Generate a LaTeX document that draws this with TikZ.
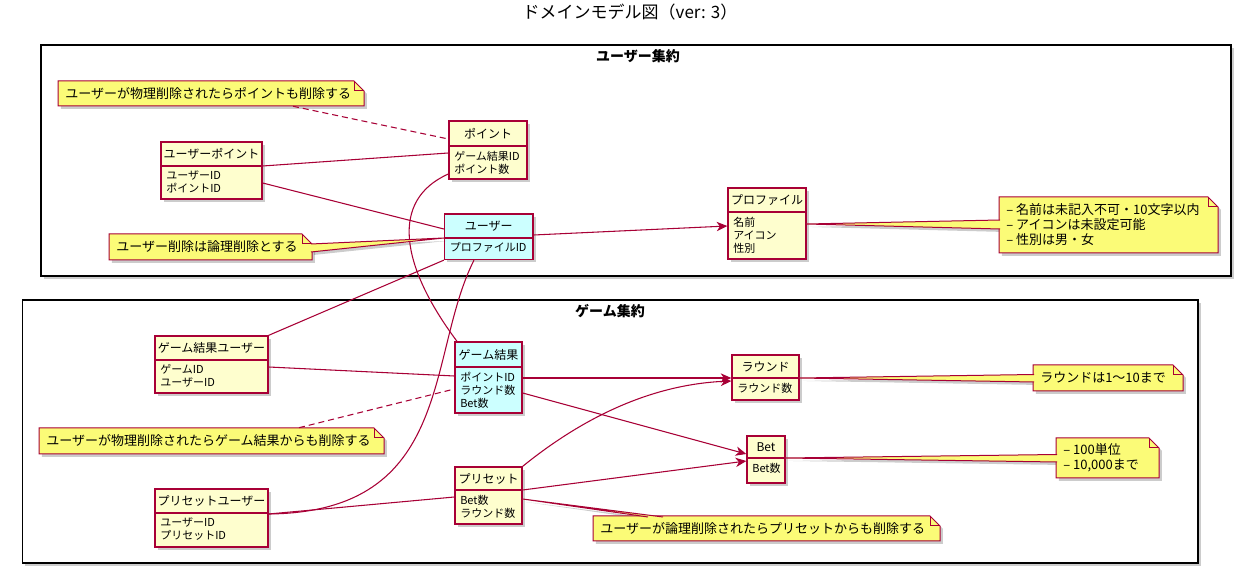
\documentclass[tikz,border=0pt]{standalone}
\usepackage{fontspec}
\setmainfont{Noto Sans CJK JP}
\usetikzlibrary{arrows.meta,shadows,fit,calc}
\definecolor{crim}{HTML}{A80036}
\definecolor{clsbg}{HTML}{FEFECE}
\definecolor{keybg}{HTML}{CCFFFF}
\definecolor{notebg}{HTML}{FBFB77}
\tikzset{
  shd/.style={drop shadow={shadow xshift=2.2pt,shadow yshift=-2.2pt,opacity=0.2,fill=black}},
  pkg/.style={draw=black,line width=1.1pt,fill=white,shd},
  pkglabel/.style={font=\fontsize{10.5pt}{12pt}\selectfont\bfseries,inner sep=0pt},
  clsnode/.style={draw=crim,line width=1pt,inner sep=0pt,shd},
  hdr/.style={font=\fontsize{9pt}{10pt}\selectfont,inner sep=0pt},
  attr/.style={font=\fontsize{8.25pt}{9.75pt}\selectfont,align=left,inner sep=0pt},
  notebody/.style={fill=notebg,draw=crim,line width=0.75pt},
  notetext/.style={font=\fontsize{9.75pt}{11.25pt}\selectfont,align=left,inner sep=0pt},
  conn/.style={draw=crim,line width=0.8pt},
  arr/.style={conn,-{Stealth[length=8pt,width=7pt,inset=2.4pt]}},
  dashconn/.style={conn,dash pattern=on 4.5pt off 3pt},
  titletext/.style={font=\fontsize{12.75pt}{15pt}\selectfont,inner sep=0pt}
}
% class: name, x1, y1, x2, y2, separator y, fill, header, attributes
\newcommand{\mkclass}[9]{%
  \node[clsnode,fill=#7,fit={(#2,#3) (#4,#5)}] (#1) {};
  \draw[crim,line width=1pt] (#2,#6) -- (#4,#6);
  \node[hdr] at ({(#2+#4)/2},{(#3+#6)/2}) {#8};
  \node[attr,anchor=north west] at ({#2+5},{#6+4.5}) {#9};
}
% note: name, x1, y1, x2, y2, text
\newcommand{\mknote}[6]{%
  \node[fit={(#2,#3) (#4,#5)},inner sep=0pt] (#1) {};
  \path[notebody,shd] (#2,#3) -- ({#4-10},#3) -- (#4,{#3+10}) -- (#4,#5) -- (#2,#5) -- cycle;
  \draw[crim,line width=0.75pt] ({#4-10},#3) -- ({#4-10},{#3+10}) -- (#4,{#3+10});
  \node[notetext,anchor=west] at ({#2+7},{(#3+#5)/2}) {#6};
}
\newcommand{\wshadow}[3]{\fill[notebg,shd] (#1) -- (#3) -- (#2) -- cycle;}
\newcommand{\wtop}[3]{\fill[notebg] (#1) -- (#3) -- (#2) -- cycle;
  \draw[crim,line width=0.75pt] (#1) -- (#3) -- (#2);}
\begin{document}
\begin{tikzpicture}[x=0.75pt,y=-0.75pt]
\useasboundingbox (0,0) rectangle (1243,573);
\fill[white] (0,0) rectangle (1243,573);
% title
\node[titletext] (title) at (630,12) {ドメインモデル図（ver: 3）};
% packages
\path[pkg] (41,45) rectangle (1231,276);
\node[pkglabel] (pkgu) at (638,56) {ユーザー集約};
\path[pkg] (22.5,300) rectangle (1198,563);
\node[pkglabel] (pkgg) at (610,311) {ゲーム集約};
% classes
\mkclass{up}{161}{142}{262}{199}{166}{clsbg}{ユーザーポイント}{ユーザーID\\ポイントID}
\mkclass{pt}{449}{121}{527}{179}{146}{clsbg}{ポイント}{ゲーム結果ID\\ポイント数}
\mkclass{us}{444.5}{214}{533}{259.5}{238}{keybg}{ユーザー}{プロファイルID}
\mkclass{pf}{728}{188}{806}{259}{212}{clsbg}{プロファイル}{名前\\アイコン\\性別}
\mkclass{gru}{155}{336}{268}{393}{360}{clsbg}{ゲーム結果ユーザー}{ゲームID\\ユーザーID}
\mkclass{gr}{455}{342}{522}{413}{367}{keybg}{ゲーム結果}{ポイントID\\ラウンド数\\Bet数}
\mkclass{psu}{155}{489}{268}{547}{513}{clsbg}{プリセットユーザー}{ユーザーID\\プリセットID}
\mkclass{ps}{455}{467}{522}{524}{490}{clsbg}{プリセット}{Bet数\\ラウンド数}
\mkclass{rd}{732}{355}{799}{400}{378}{clsbg}{ラウンド}{ラウンド数}
\mkclass{bt}{747}{436}{785}{483}{458}{clsbg}{Bet}{Bet数}
% note pointer ends
\coordinate (w2a) at (311,244); \coordinate (w2b) at (311,252); \coordinate (w2t) at (us.west |- 0,238);
\coordinate (w7a) at (1000,220); \coordinate (w7b) at (1000,229); \coordinate (w7t) at (pf.east |- 0,224);
\coordinate (w5a) at (1034,374.5); \coordinate (w5b) at (1034,382); \coordinate (w5t) at (rd.east |- 0,378);
\coordinate (w6a) at (1057,454.5); \coordinate (w6b) at (1057,462); \coordinate (w6t) at (bt.east |- 0,458);
\coordinate (w4a) at (648,517); \coordinate (w4b) at (663,517); \coordinate (w4t) at (ps.east |- 0,499);
\wshadow{w2a}{w2b}{w2t}
\wshadow{w7a}{w7b}{w7t}
\wshadow{w5a}{w5b}{w5t}
\wshadow{w6a}{w6b}{w6t}
\wshadow{w4a}{w4b}{w4t}
% notes
\mknote{n1}{58}{81}{364}{106}{ユーザーが物理削除されたらポイントも削除する}
\mknote{n2}{109}{234}{312}{260}{ユーザー削除は論理削除とする}
\mknote{n3}{39}{428}{384}{454}{ユーザーが物理削除されたらゲーム結果からも削除する}
\mknote{n4}{593}{516}{940}{541}{ユーザーが論理削除されたらプリセットからも削除する}
\mknote{n5}{1033}{365}{1183}{391}{ラウンドは1〜10まで}
\mknote{n6}{1056}{438}{1159}{478}{– 100単位\\– 10,000まで}
\mknote{n7}{999}{197}{1218}{253}{– 名前は未記入不可・10文字以内\\– アイコンは未設定可能\\– 性別は男・女}
% connectors
\draw[conn] (up.east |- 0,166) -- (pt.west |- 0,153);
\draw[conn] (up.east |- 0,183) -- (us.west |- 0,229);
\draw[dashconn] (293,0 |- n1.south) -- (pt.west |- 0,139);
\draw[conn] (pt.west |- 0,174) .. controls (390,200) and (400,265) .. (457,0 |- gr.north);
\draw[arr] (us.east |- 0,235) -- (pf.west |- 0,226);
\draw[conn] (us.south west) -- (gru.north east);
\draw[conn] (psu.east |- 0,514) .. controls (455,512) and (426,355) .. (474,0 |- us.south);
\draw[conn] (gru.east |- 0,367) -- (gr.west |- 0,376);
\draw[dashconn] (299,0 |- n3.north) -- (gr.west |- 0,389);
\draw[conn] (psu.east |- 0,514) -- (ps.west |- 0,497);
\draw[arr] (gr.east |- 0,378) -- (rd.west |- 0,378);
\draw[arr] (gr.east |- 0,393) -- (bt.west |- 0,454);
\draw[arr] (ps.north east) .. controls (570,428) and (640,385) .. (rd.west |- 0,381);
\draw[arr] (ps.east |- 0,490) -- (bt.west |- 0,461);
% note pointers on top
\wtop{w2a}{w2b}{w2t}
\wtop{w7a}{w7b}{w7t}
\wtop{w5a}{w5b}{w5t}
\wtop{w6a}{w6b}{w6t}
\wtop{w4a}{w4b}{w4t}
\end{tikzpicture}
\end{document}
